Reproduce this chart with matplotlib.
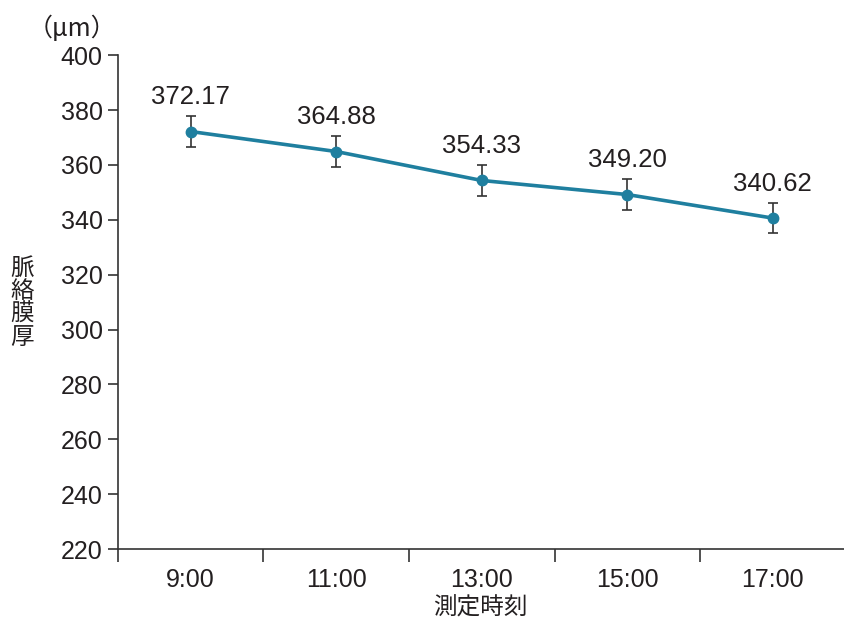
import matplotlib
matplotlib.use("Agg")
import matplotlib.pyplot as plt
import numpy as np

plt.rcParams['font.family'] = ['Liberation Sans', 'Noto Sans CJK JP', 'DejaVu Sans']

# data
times = ["9:00", "11:00", "13:00", "15:00", "17:00"]
thickness = [372.17, 364.88, 354.33, 349.20, 340.62]
errors = [5.8, 5.8, 5.7, 5.8, 5.6]
ylabel_chars = ["脈", "絡", "膜", "厚"]

line_color = "#1f7f9f"
text_color = "#231f20"

W, H = 844, 620
fig = plt.figure(figsize=(W / 100, H / 100), dpi=100)
ax = fig.add_axes([0.1398, 0.1145, 0.862, 0.7965])

x = np.arange(len(times))
ax.errorbar(x, thickness, yerr=errors, color=line_color, lw=2.6,
            marker='o', markersize=7.5, ecolor="#333333", elinewidth=1.2,
            capsize=3.5, capthick=1.2, zorder=3)
for xi, v in zip(x, thickness):
    ax.annotate(f"{v:.2f}", (xi, v), xytext=(0, 16), textcoords='offset points',
                ha='center', va='bottom', fontsize=18.5, color=text_color)

ax.set_xlim(-0.5, len(times) - 0.5)
ax.set_ylim(220, 400)
ax.set_yticks(range(220, 401, 20))
ax.set_xticks(x)
ax.set_xticklabels(times)
ax.set_xticks(np.arange(-0.5, len(times) - 1), minor=True)

ax.spines['top'].set_visible(False)
ax.spines['right'].set_visible(False)
for s in ['left', 'bottom']:
    ax.spines[s].set_color("#333333")
    ax.spines[s].set_linewidth(1.2)

ax.tick_params(axis='y', direction='out', length=7, width=1.2, color="#333333",
               labelsize=18, labelcolor=text_color, pad=4)
ax.tick_params(axis='x', which='major', length=0, labelsize=18,
               labelcolor=text_color, pad=14)
ax.tick_params(axis='x', which='minor', direction='out', length=9, width=1.2,
               color="#333333")

# x label
fig.text(480 / W, 1 - 608 / H, "測定時刻", fontsize=17, color=text_color,
         ha='center', va='center', family=['Noto Sans CJK JP'])
# vertical y label, one character per line
for i, ch in enumerate(ylabel_chars):
    fig.text(22 / W, 1 - (268 + 23 * i) / H, ch, fontsize=17, color=text_color,
             ha='center', va='center', family=['Noto Sans CJK JP'])
# unit
fig.text(72 / W, 1 - 29 / H, "（μm）", fontsize=18, color=text_color,
         ha='center', va='center', family=['Noto Sans CJK JP'])

fig.savefig("out.png", dpi=100)
